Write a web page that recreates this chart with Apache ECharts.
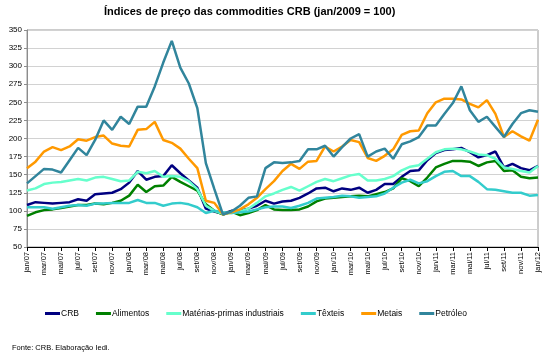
<!DOCTYPE html>
<html>
<head>
<meta charset="utf-8">
<script src="https://cdn.jsdelivr.net/npm/echarts@6/dist/echarts.min.js"></script>
<style>
html,body{margin:0;padding:0;background:#fff;}
#chart{width:550px;height:362px;}
</style>
</head>
<body>
<div id="chart"></div>
<script>
const monthNames = ["jan","fev","mar","abr","mai","jun","jul","ago","set","out","nov","dez"];
const years = ["07","08","09","10","11"];
const categories = [];
years.forEach(y => monthNames.forEach(m => categories.push(m + "/" + y)));
categories.push("jan/12");

const seriesNames = ["CRB","Alimentos","Matérias-primas industriais","Têxteis","Metais","Petróleo"];

const crb = [108,112,111,110,111,112,116,114,123,124,125,130,139,155,143,147,148,163,152,142,132,103,99,96,100,100,103,107,114,110,113,114,118,124,131,132,127,131,129,132,125,129,137,137,147,155,156,170,180,184,185,187,181,174,177,182,160,165,159,156,162];
const alimentos = [93,98,101,102,104,106,108,108,110,109,111,114,121,136,126,134,135,147,140,134,128,109,100,95,99,94,97,101,108,102,101,101,102,106,113,117,118,119,120,121,120,123,126,131,145,141,134,146,160,165,169,169,168,162,167,169,155,156,147,145,146];
const materias = [128,131,137,139,140,142,144,142,146,147,144,141,142,154,152,155,147,148,147,141,130,107,100,96,97,99,103,111,120,124,129,133,128,134,140,144,141,145,149,151,142,142,144,148,156,161,163,172,181,185,186,185,182,178,177,172,160,158,155,153,162];
const texteis = [105,105,105,103,105,107,108,107,110,110,111,111,111,115,111,111,107,110,111,109,105,97,100,98,97,98,99,102,105,106,106,104,107,111,117,118,119,121,120,118,119,120,124,132,139,143,138,141,148,154,155,148,148,140,130,129,127,125,125,121,122];
const metais = [159,168,182,188,184,189,199,197,202,204,193,190,189,212,213,223,198,194,186,172,159,114,111,95,98,102,109,118,130,141,155,165,158,168,169,189,182,189,198,195,173,169,176,185,205,210,211,235,250,255,255,254,248,243,253,234,202,210,203,197,226];
const petroleo = [138,148,158,157,153,170,187,177,198,225,212,230,220,244,244,272,305,335,298,276,242,166,130,95,99,107,118,120,159,167,166,167,169,185,185,190,175,188,200,206,175,182,186,172,192,196,202,218,218,234,249,272,239,223,230,216,202,220,235,239,237];

const title = "Índices de preço das commodities CRB (jan/2009 = 100)";
const source = "Fonte: CRB. Elaboração Iedi.";

const colors = ["#000080","#008000","#66FFCC","#33CCCC","#FF9900","#31859C"];
const dataArr = [crb, alimentos, materias, texteis, metais, petroleo];

const chart = echarts.init(document.getElementById('chart'), null, {renderer:'canvas'});
const font = "Liberation Sans, Arial, sans-serif";
chart.setOption({
  animation:false,
  backgroundColor:'#ffffff',
  title:{
    text:title,
    left:104,
    top:6,
    padding:0,
    textStyle:{fontFamily:font, fontWeight:'bold', fontSize:11, color:'#000'}
  },
  graphic:[{
    type:'text', left:12, top:344,
    style:{text:source, fontFamily:font, fontSize:7.5, fill:'#000'}
  }],
  legend:{
    data:seriesNames,
    left:45, top:309,
    padding:0,
    itemWidth:15, itemHeight:3, itemGap:17,
    icon:'rect',
    textStyle:{fontFamily:font, fontSize:8.5, color:'#000', padding:[0,0,0,-4]}
  },
  grid:{left:27, right:12, top:30, bottom:115, show:true, borderColor:'#9a9a9a', borderWidth:1},
  xAxis:{
    type:'category',
    data:categories,
    boundaryGap:false,
    axisLine:{lineStyle:{color:'#000', width:1}},
    axisTick:{interval:1, length:4, lineStyle:{color:'#000'}},
    axisLabel:{interval:1, rotate:90, fontFamily:font, fontSize:7.5, color:'#000', margin:5}
  },
  yAxis:{
    type:'value',
    min:50, max:350, interval:25,
    axisLine:{show:true, lineStyle:{color:'#8c8c8c'}},
    axisTick:{show:true, length:3, lineStyle:{color:'#8c8c8c'}},
    axisLabel:{fontFamily:font, fontSize:8, color:'#000', margin:5},
    splitLine:{lineStyle:{color:'#d2d2d2', width:1}}
  },
  series: seriesNames.map((n,i)=>({
    name:n, type:'line', data:dataArr[i], showSymbol:false, symbol:'none',
    lineStyle:{color:colors[i], width:2.5},
    itemStyle:{color:colors[i]}
  }))
});
</script>
</body>
</html>
